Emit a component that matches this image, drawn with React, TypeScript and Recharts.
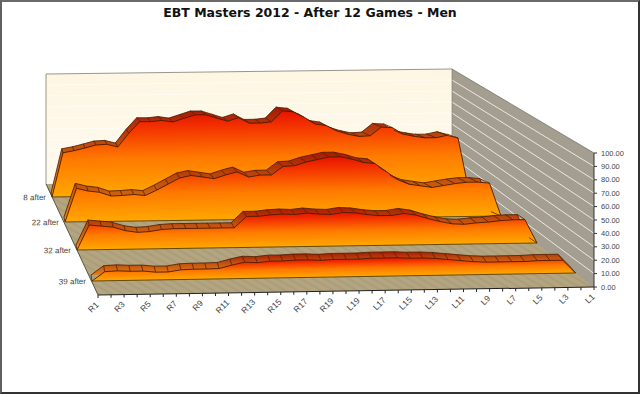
import React from "react";
import { AreaChart, Area, XAxis, YAxis, ReferenceLine, Label, LineChart, Line } from "recharts";

const title = "EBT Masters 2012 - After 12 Games - Men";
const categories = ["R1","R2","R3","R4","R5","R6","R7","R8","R9","R10","R11","R12","R13","R14","R15","R16","R17","R18","R19","R20","L19","L18","L17","L16","L15","L14","L13","L12","L11","L10","L9","L8","L7","L6","L5","L4","L3","L2","L1"];
const after8 = [0,39,40.7,43,45.5,46,43.5,55.5,65.7,65.5,66.5,65,68,71,71,68,65,68,63,63,64,73.5,72.5,67.5,61.5,60,55,52,50,50.5,58,57.5,51.5,49.5,48,48,50,47.5,0];
const after22 = [0,28.4,26,24.8,21.5,21.8,22.5,21.5,26,31,36,38,36.5,35,38,40.5,36,37.5,37.5,44.5,45,48,50,52,52,50,47,46,39,32,28,26.5,25,26.5,28,29,29,28,0];
const after32 = [0,20,19,18,15,13.5,14,15.5,16,16,16,16,16,16,25,25,26,26.5,26,27,26,25.6,27,26.5,25,24,24,25.5,24,21,18.5,16.5,16,17,17.5,18.5,19,19,0];
const after39 = [0,7,7.5,7,7,6,6,7.5,7.8,7.8,8,10.5,12.5,12,13,13,13.5,13.5,13,13.5,13.5,13.5,14,14,14,13.5,13.5,13,12,11,10,9.5,9.5,9.5,9.5,10,10,10,0];
const valueTicks = [0,10,20,30,40,50,60,70,80,90,100];

const chartData = categories.map((name, i) => ({ name, after8: after8[i], after22: after22[i], after32: after32[i], after39: after39[i] }));

const layers = [
  { key: "after8", label: "8 after", x0: 52, y0: 197, x1: 469, y1: 191.5, h: 113, dxL: 1, dyL: 4.5, dxR: 11, dyR: 4 },
  { key: "after22", label: "22 after", x0: 65, y0: 222, x1: 501, y1: 216, h: 118, dxL: 1, dyL: 5, dxR: 10, dyR: 4.5 },
  { key: "after32", label: "32 after", x0: 77, y0: 250, x1: 537, y1: 243, h: 124, dxL: 1, dyL: 5.5, dxR: 8, dyR: 5.5 },
  { key: "after39", label: "39 after", x0: 91.5, y0: 281, x1: 575, y1: 273, h: 130, dxL: 1, dyL: 6, dxR: 5, dyR: 6 },
];

const ML = 70, MT = 10, MB = 4, MR = 4;

function box(x0: number, y0: number, x1: number, y1: number, h: number): React.CSSProperties {
  const s = (y1 - y0) / (x1 - x0);
  return {
    position: "absolute",
    left: x0 - ML,
    top: y0 - h - MT,
    transformOrigin: `${ML}px ${h + MT}px`,
    transform: `matrix(1,${s},0,1,0,0)`,
  };
}

function Ribbon({ l }: any) {
  const x0 = l.x0 - l.dxL, y0 = l.y0 - l.dyL, x1 = l.x1 - l.dxR, y1 = l.y1 - l.dyR;
  const w = x1 - x0;
  return (
    <div style={box(x0, y0, x1, y1, l.h)}>
      <AreaChart width={w + ML + MR} height={l.h + MT + MB} data={chartData} margin={{ top: MT, left: ML, right: MR, bottom: MB }}>
        <defs>
          <linearGradient id={`rib-${l.key}`} x1="0" y1="0" x2="0" y2="1">
            <stop offset="0" stopColor="#a81a04" />
            <stop offset="0.45" stopColor="#c0500e" />
            <stop offset="1" stopColor="#e48012" />
          </linearGradient>
        </defs>
        <XAxis dataKey="name" hide />
        <YAxis hide domain={[0, 100]} />
        <Area type="linear" dataKey={l.key} fill={`url(#rib-${l.key})`} fillOpacity={1} stroke="#4a1c00" strokeWidth={0.8} isAnimationActive={false} dot={false} activeDot={false} />
      </AreaChart>
    </div>
  );
}

function Front({ l }: any) {
  const w = l.x1 - l.x0;
  const n = categories.length - 1;
  const divider = (p: any) => {
    const u = p.index / n;
    const dx = -(l.dxL + u * (l.dxR - l.dxL));
    const dy = -(l.dyL + u * (l.dyR - l.dyL));
    return <line key={p.index} x1={p.cx} y1={p.cy} x2={p.cx + dx} y2={p.cy + dy} stroke="#5a2000" strokeWidth={0.8} />;
  };
  return (
    <div style={box(l.x0, l.y0, l.x1, l.y1, l.h)}>
      <AreaChart width={w + ML + MR} height={l.h + MT + MB} data={chartData} margin={{ top: MT, left: ML, right: MR, bottom: MB }}>
        <defs>
          <linearGradient id={`face-${l.key}`} x1="0" y1="0" x2="0" y2="1">
            <stop offset="0" stopColor="#e41400" />
            <stop offset="0.15" stopColor="#f22c00" />
            <stop offset="0.55" stopColor="#ff7a00" />
            <stop offset="1" stopColor="#ffa800" />
          </linearGradient>
        </defs>
        <XAxis dataKey="name" hide />
        <YAxis hide domain={[0, 100]} />
        <Area type="linear" dataKey={l.key} fill={`url(#face-${l.key})`} fillOpacity={1} stroke="#4a1c00" strokeWidth={0.9} isAnimationActive={false} dot={divider} activeDot={false} />
        <ReferenceLine y={0} stroke="#5a4000" strokeWidth={0.9}>
          <Label value={l.label} position="left" offset={6} fontSize={8} fontFamily="Liberation Sans" fill="#444" />
        </ReferenceLine>
      </AreaChart>
    </div>
  );
}

function Walls() {
  const lines = valueTicks.map((v) => {
    const f = v / 100;
    return {
      v,
      bx: 452, by: 179 - 110 * f,
      fx: 594, fy: 287 - 134 * f,
      lx: 46, ly: 184 - 110 * f,
    };
  });
  return (
    <svg width={640} height={394} style={{ position: "absolute", left: 0, top: 0 }}>
      <defs>
        <pattern id="floorTex" width="6" height="6" patternUnits="userSpaceOnUse" patternTransform="rotate(30)">
          <rect width="6" height="6" fill="#b3a582" />
          <rect width="6" height="2" fill="#ab9d78" />
        </pattern>
        <linearGradient id="wallBack" x1="0" y1="0" x2="0" y2="1">
          <stop offset="0" stopColor="#fdf6e2" />
          <stop offset="1" stopColor="#fffaf0" />
        </linearGradient>
      </defs>
      <polygon points="46,74 452,69 452,179 46,184" fill="url(#wallBack)" />
      <polygon points="452,69 594,153 594,287 452,179" fill="#a39e90" />
      <polygon points="46,184 98,295 594,287 452,179" fill="url(#floorTex)" />
      {lines.slice(1, 10).map((g) => (
        <line key={`b${g.v}`} x1={g.lx} y1={g.ly} x2={g.bx} y2={g.by} stroke="#fffdf6" strokeWidth={0.8} />
      ))}
      {lines.slice(1, 10).map((g) => (
        <line key={`r${g.v}`} x1={g.bx} y1={g.by} x2={g.fx} y2={g.fy} stroke="#f2f0ea" strokeWidth={0.9} />
      ))}
      <polyline points="46,184 46,74 452,69 594,153" fill="none" stroke="#6e6a60" strokeWidth={0.7} />
      <line x1={452} y1={69} x2={452} y2={179} stroke="#77736a" strokeWidth={0.6} />
      <line x1={46} y1={184} x2={98} y2={295} stroke="#3a3428" strokeWidth={0.8} />
      <line x1={452} y1={179} x2={594} y2={287} stroke="#8a8474" strokeWidth={0.5} />
    </svg>
  );
}

function ValueAxis() {
  return (
    <div style={{ position: "absolute", left: 554, top: 143 }}>
      <LineChart width={80} height={154} data={chartData} margin={{ top: 10, left: 0, right: 0, bottom: 10 }}>
        <XAxis dataKey="name" hide />
        <YAxis orientation="right" width={40} domain={[0, 100]} ticks={valueTicks} interval={0}
          tickFormatter={(v: number) => v.toFixed(2)} tickSize={3} tickMargin={4}
          tick={{ fontSize: 7.5, fontFamily: "Liberation Sans", fill: "#444" }}
          axisLine={{ stroke: "#333" }} tickLine={{ stroke: "#333" }} />
        <Line dataKey="after39" stroke="none" dot={false} activeDot={false} isAnimationActive={false} />
      </LineChart>
    </div>
  );
}

function CategoryAxis() {
  const x0 = 98, y0 = 295, x1 = 594, y1 = 287;
  const s = (y1 - y0) / (x1 - x0);
  return (
    <div style={{ position: "absolute", left: x0 - 20, top: y0 - 5, transformOrigin: "20px 5px", transform: `matrix(1,${s},0,1,0,0)` }}>
      <LineChart width={x1 - x0 + 40} height={45} data={chartData} margin={{ top: 5, left: 20, right: 20, bottom: 0 }}>
        <XAxis dataKey="name" height={40} interval={0} tickSize={3} tickMargin={3} angle={-45} textAnchor="end"
          tickFormatter={(v: string, i: number) => (i % 2 === 0 ? v : "")}
          tick={{ fontSize: 8.5, fontFamily: "Liberation Sans", fill: "#444", dx: -3 }}
          axisLine={{ stroke: "#222" }} tickLine={{ stroke: "#222" }} />
        <YAxis hide domain={[0, 100]} />
        <Line dataKey="after39" stroke="none" dot={false} activeDot={false} isAnimationActive={false} />
      </LineChart>
    </div>
  );
}

export default function App() {
  return (
    <div style={{ position: "absolute", left: 0, top: 0, width: 640, height: 394, background: "#fff", overflow: "hidden", boxSizing: "border-box" }}>
      <Walls />
      {layers.map((l) => (
        <React.Fragment key={l.key}>
          <Ribbon l={l} />
          <Front l={l} />
        </React.Fragment>
      ))}
      <ValueAxis />
      <CategoryAxis />
      <div style={{ position: "absolute", left: 0, width: 620, top: 5, textAlign: "center", fontFamily: "DejaVu Sans", fontWeight: 700, fontSize: 12.5, color: "#111", lineHeight: "16px" }}>{title}</div>
      <div style={{ position: "absolute", inset: 0, boxSizing: "border-box", borderLeft: "2px solid #606060", borderTop: "2px solid #6a6a6a", borderRight: "2px solid #333", borderBottom: "2px solid #333", pointerEvents: "none" }} />
    </div>
  );
}
